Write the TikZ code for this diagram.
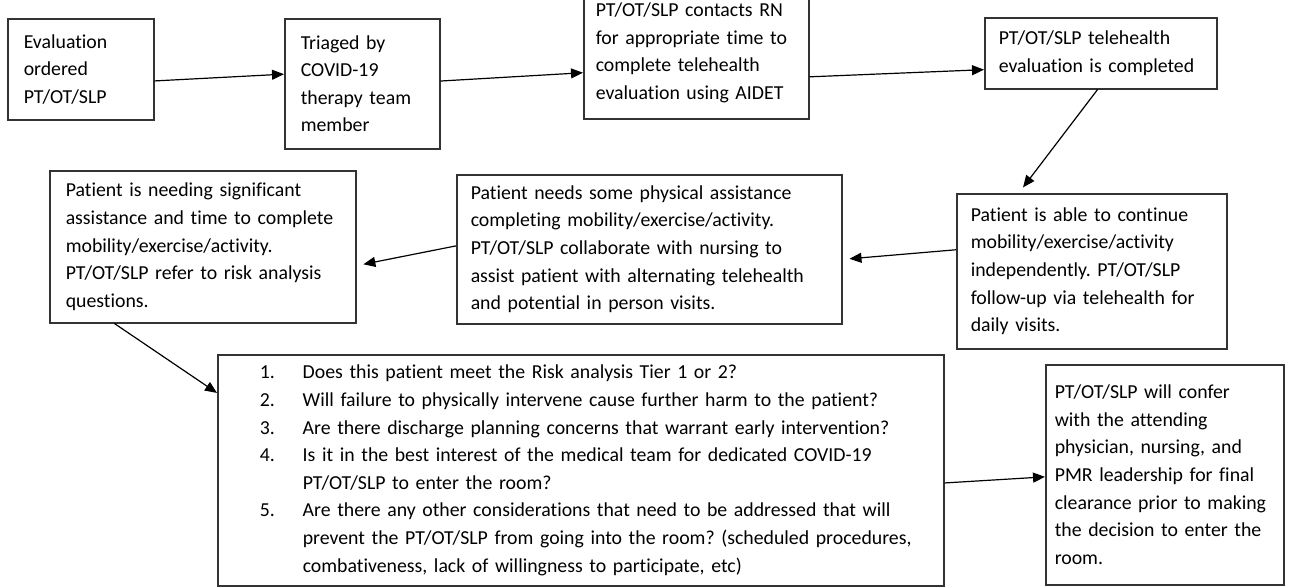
\documentclass[tikz,border=0pt]{standalone}
\usepackage{fontspec}
\setmainfont{Carlito}[Ligatures={NoCommon,NoContextual}]
\usetikzlibrary{arrows.meta}
\frenchspacing
\newcommand{\qitem}[2]{\hspace*{12pt}\makebox[21.5pt][l]{#1}\mbox{#2}}
\newcommand{\qcont}[1]{\hspace*{33.5pt}\mbox{#1}}

\begin{document}
\begin{tikzpicture}[x=0.5pt,y=-0.5pt,
    st/.style={draw=black!80,line width=0.75pt,align=left,anchor=north west,inner ysep=0pt,
      font=\fontsize{9.9}{13.8}\selectfont},
    arr/.style={-{Triangle[length=6pt,width=5pt]},line width=0.6pt}]
    \useasboundingbox (0,0) rectangle (1304,586);
    % top row
    \node[st,text width=57pt,inner xsep=8pt,minimum height=50.5pt] (eval) at (7,18)
      {Evaluation\\ordered\\PT/OT/SLP};
    \node[st,text width=61.5pt,inner xsep=8pt,minimum height=65pt] (triage) at (284,18)
      {Triaged by\\COVID-19\\therapy team\\member};
    \node[st,text width=100.5pt,inner xsep=6pt,minimum height=66pt] (contact) at (583,-14)
      {PT/OT/SLP contacts RN\\for appropriate time to\\complete telehealth\\evaluation using AIDET};
    \node[st,text width=102pt,inner xsep=7pt,minimum height=35.5pt] (tele) at (984,17)
      {PT/OT/SLP telehealth\\evaluation is completed};
    % middle row
    \node[st,text width=139pt,inner xsep=7pt,minimum height=76pt] (sig) at (49,170)
      {\hspace*{1pt}Patient is needing significant\\\hspace*{1pt}assistance and time to complete\\\hspace*{1pt}mobility/exercise/activity.\\\hspace*{1pt}PT/OT/SLP refer to risk analysis\\\hspace*{1pt}questions.};
    \node[st,text width=178.5pt,inner xsep=7pt,minimum height=74.5pt] (some) at (456,174)
      {Patient needs some physical assistance\\completing mobility/exercise/activity.\\PT/OT/SLP collaborate with nursing to\\assist patient with alternating telehealth\\and potential in person visits.};
    \node[st,text width=121pt,inner xsep=7pt,minimum height=77.5pt] (indep) at (956,193)
      {Patient is able to continue\\mobility/exercise/activity\\independently. PT/OT/SLP\\follow-up via telehealth for\\daily visits.};
    % bottom row
    \node[st,text width=345pt,inner xsep=9pt,minimum height=115.5pt] (risk) at (217,354)
      {\qitem{1.}{Does this patient meet the Risk analysis Tier 1 or 2?}\\
       \qitem{2.}{Will failure to physically intervene cause further harm to the patient?}\\
       \qitem{3.}{Are there discharge planning concerns that warrant early intervention?}\\
       \qitem{4.}{Is it in the best interest of the medical team for dedicated COVID-19}\\
       \qcont{PT/OT/SLP to enter the room?}\\
       \qitem{5.}{Are there any other considerations that need to be addressed that will}\\
       \qcont{prevent the PT/OT/SLP from going into the room? (scheduled procedures,}\\
       \qcont{combativeness, lack of willingness to participate, etc)}};
    \node[st,text width=112pt,inner xsep=3.5pt,minimum height=110pt] (confer) at (1045,364)
      {\hspace*{1pt}PT/OT/SLP will confer\\\hspace*{1pt}with the attending\\\hspace*{1pt}physician, nursing, and\\\hspace*{1pt}PMR leadership for final\\\hspace*{1pt}clearance prior to making\\\hspace*{1pt}the decision to enter the\\\hspace*{1pt}room.};
    % connectors
    \draw[arr] (eval.-9) -- (triage.173);
    \draw[arr] (triage.2) -- (contact.190);
    \draw[arr] (contact.-12) -- (tele.188);
    \draw[arr,shorten >=3.5pt] (tele.-95) -- (indep.133);
    \draw[arr,shorten >=3.5pt] (indep.171) -- (some.-3);
    \draw[arr,shorten >=3.5pt] (some.179) -- (sig.-7);
    \draw[arr] (sig.-139) -- (risk.168);
    \draw[arr] (risk.-2) -- (confer.181);
\end{tikzpicture}
\end{document}
